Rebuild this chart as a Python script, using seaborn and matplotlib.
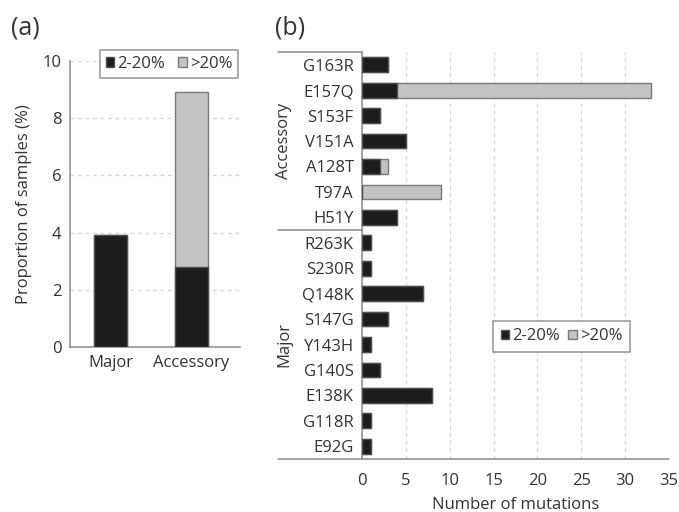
import matplotlib
matplotlib.use("Agg")
import matplotlib.pyplot as plt
import matplotlib.transforms as mtransforms
from matplotlib.patches import Patch
import pandas as pd
import seaborn as sns

# Panel (a): proportion of samples with resistance mutations
groups = ["Major", "Accessory"]
low_freq_pct = [3.9, 2.8]      # 2-20% variants
total_pct = [3.9, 8.9]         # 2-20% plus >20%

# Panel (b): number of mutations per position
mutations = ["G163R", "E157Q", "S153F", "V151A", "A128T", "T97A", "H51Y",
             "R263K", "S230R", "Q148K", "S147G", "Y143H", "G140S", "E138K",
             "G118R", "E92G"]
low_counts = [3, 4, 2, 5, 2, 0, 4, 1, 1, 7, 3, 1, 2, 8, 1, 1]
high_counts = [0, 29, 0, 0, 1, 9, 0, 0, 0, 0, 0, 0, 0, 0, 0, 0]
n_accessory = 7

sns.set_theme(style="white")
plt.rcParams["font.family"] = ["Open Sans", "DejaVu Sans"]

FS = 12
BLACK = "#1c1c1c"
BLACK_EDGE = "#505050"
GREY = "#c3c3c3"
GREY_EDGE = "#7a7a7a"
SPINE = "#8a8a8a"
GRID = "#d6d6d6"
TEXT = "#333333"

fig = plt.figure(figsize=(6.79, 5.12), dpi=100)
ax_a = fig.add_axes([0.1031, 0.3223, 0.2504, 0.5586])
ax_b = fig.add_axes([0.5331, 0.1035, 0.4522, 0.7949])

# ---- panel (a) ----
df_a = pd.DataFrame({"group": groups, "low": low_freq_pct, "total": total_pct})
sns.barplot(data=df_a, x="group", y="total", color=GREY, edgecolor=GREY_EDGE,
            linewidth=1, width=0.41, saturation=1, ax=ax_a, zorder=3)
sns.barplot(data=df_a, x="group", y="low", color=BLACK, edgecolor=BLACK_EDGE,
            linewidth=1, width=0.41, saturation=1, ax=ax_a, zorder=4)
ax_a.set_ylim(0, 10)
ax_a.set_xlim(-0.5, 1.6)
ax_a.set_yticks([0, 2, 4, 6, 8, 10])
ax_a.yaxis.grid(True, linestyle=(0, (3, 3)), color=GRID, linewidth=0.9, zorder=0)
ax_a.set_axisbelow(True)
ax_a.set_xlabel("")
ax_a.set_ylabel("Proportion of samples (%)", fontsize=FS, color=TEXT, labelpad=8)
for s in ["top", "right"]:
    ax_a.spines[s].set_visible(False)
for s in ["left", "bottom"]:
    ax_a.spines[s].set_color(SPINE)
    ax_a.spines[s].set_linewidth(1.1)
ax_a.tick_params(axis="both", length=0, labelsize=FS, labelcolor=TEXT, pad=6)

handles = [Patch(facecolor=BLACK, edgecolor=BLACK_EDGE, label="2-20%"),
           Patch(facecolor=GREY, edgecolor=GREY_EDGE, label=">20%")]
leg_kw = dict(ncol=2, fontsize=FS, handlelength=0.5, handleheight=0.5,
              handletextpad=0.2, fancybox=False, frameon=True,
              labelcolor=TEXT)
leg_a = fig.legend(handles=handles, loc="center",
                   bbox_to_anchor=(0.2489, 0.8750), borderpad=0.35,
                   columnspacing=0.8, **leg_kw)
leg_a.get_frame().set_edgecolor("#7a7a7a")
leg_a.get_frame().set_linewidth(1.1)

fig.text(0.016, 0.945, "(a)", fontsize=18, color=TEXT, va="center")

# ---- panel (b) ----
df_b = pd.DataFrame({"mutation": mutations, "low": low_counts,
                     "total": [l + h for l, h in zip(low_counts, high_counts)]})
sns.barplot(data=df_b, y="mutation", x="total", orient="h", color=GREY,
            edgecolor=GREY_EDGE, linewidth=1, width=0.58, saturation=1,
            ax=ax_b, zorder=3)
sns.barplot(data=df_b, y="mutation", x="low", orient="h", color=BLACK,
            edgecolor=BLACK_EDGE, linewidth=1, width=0.58, saturation=1,
            ax=ax_b, zorder=4)
ax_b.set_xlim(0, 35)
ax_b.set_ylim(len(mutations) - 0.5, -0.5)
ax_b.set_xticks(range(0, 36, 5))
ax_b.xaxis.grid(True, linestyle=(0, (3, 3)), color=GRID, linewidth=0.9, zorder=0)
ax_b.set_axisbelow(True)
ax_b.set_ylabel("")
ax_b.set_xlabel("Number of mutations", fontsize=FS, color=TEXT, labelpad=6)
for s in ["top", "right", "bottom"]:
    ax_b.spines[s].set_visible(False)
ax_b.spines["left"].set_color(SPINE)
ax_b.spines["left"].set_linewidth(1.1)
ax_b.tick_params(axis="both", length=0, labelsize=FS, labelcolor=TEXT, pad=6)
ax_b.tick_params(axis="x", pad=10)

# group brackets to the left of the mutation labels
trans = mtransforms.blended_transform_factory(ax_b.transAxes, ax_b.transData)
x_left = -0.274
sep = n_accessory - 0.5
for yv in [-0.5, sep]:
    ax_b.plot([x_left, 0], [yv, yv], transform=trans, color=SPINE,
              linewidth=1.1, clip_on=False, zorder=5)
ax_b.plot([x_left, 1.0], [len(mutations) - 0.5] * 2, transform=trans,
          color=SPINE, linewidth=1.1, clip_on=False, zorder=5)
ax_b.text(x_left + 0.02, (-0.5 + sep) / 2, "Accessory", transform=trans,
          rotation=90, ha="center", va="center", fontsize=FS, color=TEXT)
ax_b.text(x_left + 0.02, (sep + len(mutations) - 0.5) / 2, "Major",
          transform=trans, rotation=90, ha="center", va="center",
          fontsize=FS, color=TEXT)

leg_b = ax_b.legend(handles=handles, loc="center",
                    bbox_to_anchor=(0.827, 0.3428), bbox_transform=fig.transFigure,
                    borderpad=0.45, columnspacing=0.5, **leg_kw)
leg_b.get_frame().set_edgecolor("#7a7a7a")
leg_b.get_frame().set_linewidth(1.1)

fig.text(0.405, 0.945, "(b)", fontsize=18, color=TEXT, va="center")

fig.savefig("out.png", dpi=100)
